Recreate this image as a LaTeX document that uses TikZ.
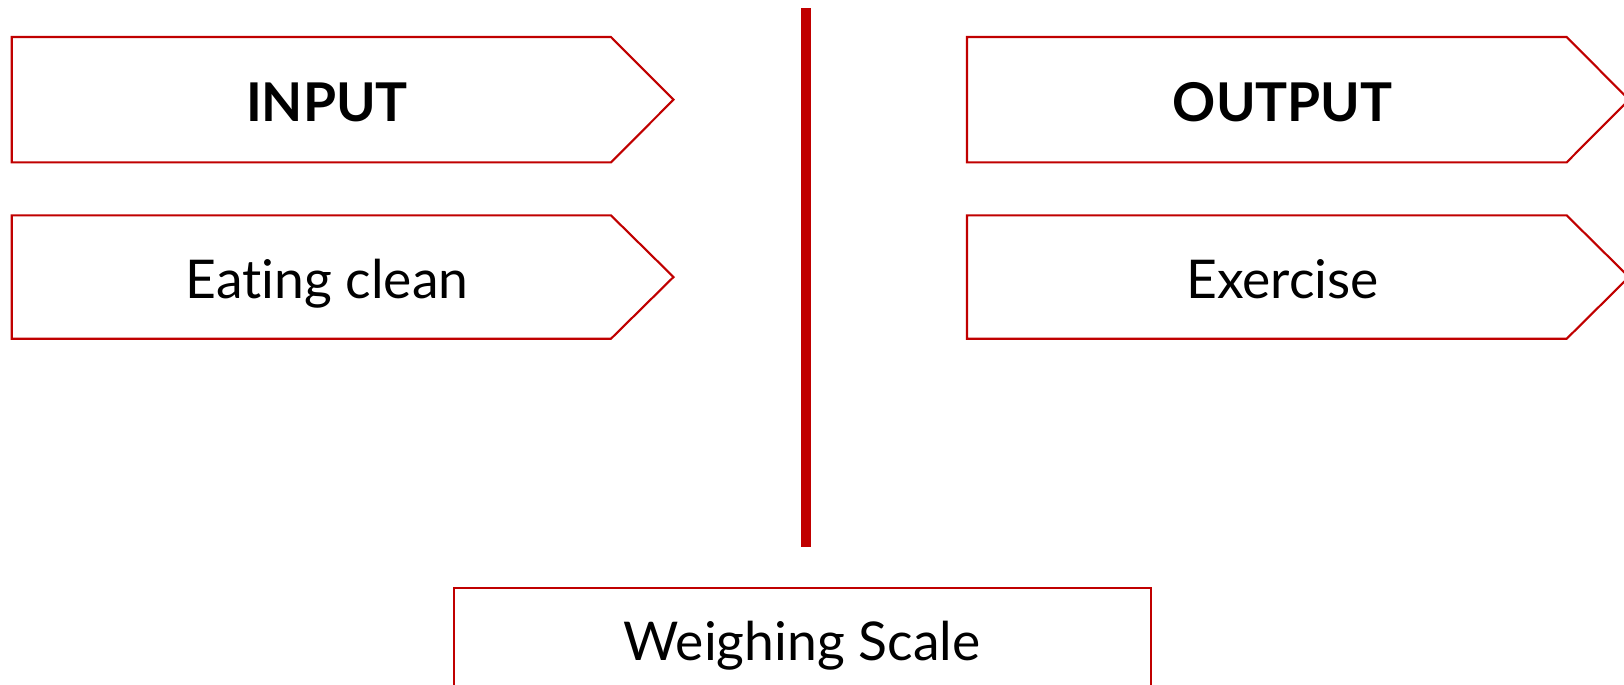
\documentclass[tikz,border=0pt]{standalone}
\usepackage{fontspec}
\setmainfont[Ligatures=NoCommon]{Lato}
\definecolor{boxred}{RGB}{192,0,0}
\tikzset{
  x=0.01cm, y=-0.01cm,
  outline/.style={draw=boxred, line width=0.6pt, line join=miter},
  divider/.style={draw=boxred, line width=2.85pt},
  heading/.style={anchor=base, font=\fontsize{15.2}{18}\selectfont\bfseries, inner sep=0pt},
  item/.style={anchor=base, font=\fontsize{15.2}{18}\selectfont, inner sep=0pt},
}
\begin{document}
\begin{tikzpicture}
\useasboundingbox (0,0) rectangle (1624,684);

% left column: pentagon arrow boxes
\draw[outline] (11.7,37) -- (611,37) -- (673.5,99.7) -- (611,162.3) -- (11.7,162.3) -- cycle;
\draw[outline] (11.7,215.4) -- (611,215.4) -- (673.5,277) -- (611,338.7) -- (11.7,338.7) -- cycle;
% right column
\draw[outline] (967,37) -- (1566.7,37) -- (1629,99.7) -- (1566.7,162.3) -- (967,162.3) -- cycle;
\draw[outline] (967,215.4) -- (1566.7,215.4) -- (1629,277) -- (1566.7,338.7) -- (967,338.7) -- cycle;
% bottom box, running past the lower edge
\draw[outline] (454,700) -- (454,587.7) -- (1150.7,587.7) -- (1150.7,700);

\node[heading] (input) at (327,121.2) {INPUT};
\node[item] (eat) at (327,298.3) {Eating clean};
\node[heading] (output) at (1282.7,121.2) {OUTPUT};
\node[item] (exercise) at (1282.7,298.3) {Exercise};
\node[item] (scale) at (802,660.8) {Weighing Scale};

% central divider
\coordinate (divtop) at (806,8);
\coordinate (divbot) at (806,547);
\draw[divider] (divtop) -- (divbot);
\end{tikzpicture}
\end{document}
